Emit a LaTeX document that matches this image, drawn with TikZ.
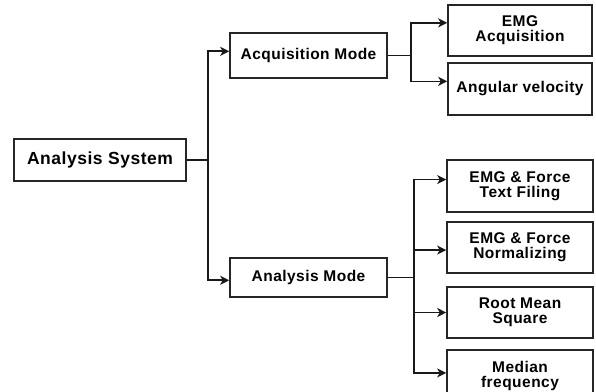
\documentclass[tikz,border=0pt]{standalone}
\usepackage{fontspec}
\setmainfont{Liberation Sans}[LetterSpace=3]
\usetikzlibrary{arrows.meta}
\begin{document}
\begin{tikzpicture}[x=1pt, y=-1pt,
    box/.style={draw=black!85, line width=1.6pt, align=center, inner sep=0pt,
      font=\bfseries\fontsize{15.5}{15}\selectfont},
    link/.style={line width=1.7pt, black!90},
    arrow/.style={link, -{Stealth[length=9pt, width=9pt, inset=2.5pt]}}]
    \useasboundingbox (0,0) rectangle (596,391);
    \node[box, minimum width=172pt, minimum height=42pt,
      font=\bfseries\fontsize{17.5}{18}\selectfont] at (100,160) (sysBox) {Analysis System};
    \node[box, minimum width=157pt, minimum height=45pt] at (308.5,55.5) (acqBox) {Acquisition Mode};
    \node[box, minimum width=157pt, minimum height=39pt] at (308.5,277.5) (anaBox) {Analysis Mode};
    \node[box, minimum width=144pt, minimum height=51pt] at (520,30.5) (emgBox) {EMG\\Acquisition};
    \node[box, minimum width=144pt, minimum height=52pt] at (520,89) (angBox) {Angular velocity};
    \node[box, minimum width=146pt, minimum height=52pt] at (520,186) (filingBox) {EMG \& Force\\Text Filing};
    \node[box, minimum width=146pt, minimum height=51pt] at (520,247.5) (normBox) {EMG \& Force\\Normalizing};
    \node[box, minimum width=146pt, minimum height=51pt] at (520,312.5) (rmsBox) {Root Mean\\Square};
    \node[box, minimum width=146pt, minimum height=51pt] at (520,375.5) (medBox) {Median\\frequency};
    % first level
    \draw[link] (sysBox.east) -- ++(21,0) coordinate (sysSplit);
    \draw[arrow] (sysSplit) |- (acqBox.177);
    \draw[arrow] (sysSplit) |- (anaBox.182);
    % acquisition branch
    \draw[link] (acqBox.east) -- ++(23,0) coordinate (acqSplit);
    \draw[arrow] (acqSplit) |- (emgBox.174);
    \draw[arrow] (acqSplit) |- (angBox.174);
    % analysis branch
    \draw[link] (anaBox.east) -- ++(26,0) coordinate (anaSplit);
    \draw[arrow] (anaSplit) |- (filingBox.175);
    \draw[arrow] (anaSplit) |- (normBox.182);
    \draw[arrow] (anaSplit) |- (rmsBox.west);
    \draw[arrow] (anaSplit) |- (medBox.178);
\end{tikzpicture}
\end{document}
